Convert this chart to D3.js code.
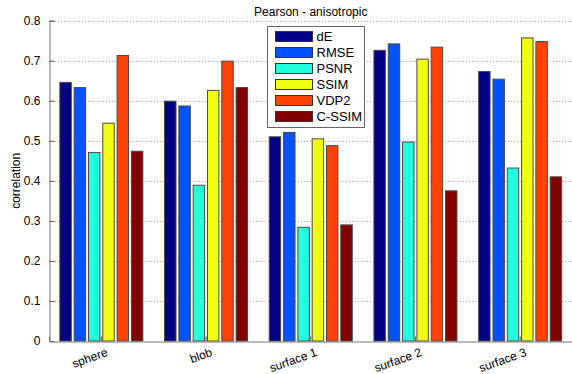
<!DOCTYPE html>
<html>
<head>
<meta charset="utf-8">
<script src="https://cdn.jsdelivr.net/npm/d3@7/dist/d3.min.js"></script>
<style>
  html, body { margin: 0; padding: 0; background: #fff; }
  svg { display: block; font-family: "Liberation Sans", Arial, sans-serif; }
</style>
</head>
<body>
<svg id="chart" width="572" height="374"></svg>
<script>
// Scene categories and the metrics compared for each
const categories = ["sphere", "blob", "surface 1", "surface 2", "surface 3"];
const metrics = ["dE", "RMSE", "PSNR", "SSIM", "VDP2", "C-SSIM"];
const metricColors = ["#000085", "#0052ff", "#22ffdd", "#f0ff10", "#ff4200", "#800000"];

// Pearson correlation per metric, one value per category
const dE    = [0.646, 0.599, 0.510, 0.726, 0.673];
const RMSE  = [0.633, 0.587, 0.521, 0.742, 0.654];
const PSNR  = [0.471, 0.389, 0.284, 0.497, 0.432];
const SSIM  = [0.544, 0.626, 0.505, 0.704, 0.757];
const VDP2  = [0.713, 0.699, 0.488, 0.734, 0.748];
const CSSIM = [0.474, 0.633, 0.290, 0.375, 0.410];
const seriesValues = [dE, RMSE, PSNR, SSIM, VDP2, CSSIM];

const yTicks = [0, 0.1, 0.2, 0.3, 0.4, 0.5, 0.6, 0.7, 0.8];

const svg = d3.select("#chart");
const margin = { left: 49, right: 0, top: 20.7, bottom: 33 };
const W = 572.5, H = 374;

const x = d3.scaleBand()
  .domain(categories)
  .range([margin.left, W])
  .paddingInner(0)
  .paddingOuter(0);

const inner = d3.scaleBand()
  .domain(metrics)
  .range([0, x.bandwidth() * 0.82])
  .paddingInner(0.2)
  .paddingOuter(0.1);

const y = d3.scaleLinear().domain([0, 0.8]).range([341, margin.top]);

// Dotted grid
svg.append("g")
  .selectAll("line")
  .data(yTicks.slice(1))
  .join("line")
  .attr("x1", margin.left).attr("x2", W)
  .attr("y1", d => Math.round(y(d)) + 0.5).attr("y2", d => Math.round(y(d)) + 0.5)
  .attr("stroke", "#a8a8a8")
  .attr("stroke-width", 1)
  .attr("stroke-dasharray", "1,2");

// Bars
const groups = svg.append("g")
  .selectAll("g")
  .data(categories)
  .join("g")
  .attr("transform", d => `translate(${x(d) + x.bandwidth() * 0.09},0)`);

groups.selectAll("rect")
  .data((c, ci) => metrics.map((m, mi) => ({ m, mi, v: seriesValues[mi][ci] })))
  .join("rect")
  .attr("x", d => inner(d.m))
  .attr("width", inner.bandwidth())
  .attr("y", d => y(d.v))
  .attr("height", d => y(0) - y(d.v))
  .attr("fill", d => metricColors[d.mi])
  .attr("stroke", "#4a4a4a")
  .attr("stroke-width", 1);

// Y axis (ticks point inward)
const yAxis = d3.axisLeft(y)
  .tickValues(yTicks)
  .tickSize(-5)
  .tickPadding(9)
  .tickFormat(d => d === 0 ? "0" : d3.format(".1f")(d));

const gy = svg.append("g")
  .attr("transform", `translate(${margin.left + 0.5},0)`)
  .call(yAxis);
gy.select(".domain").attr("stroke", "#777");
gy.selectAll(".tick line").attr("stroke", "#555");
gy.selectAll("text").attr("font-size", 12).attr("fill", "#000");

// X axis
const xAxis = d3.axisBottom(x).tickSize(-5).tickFormat("");
const gx = svg.append("g")
  .attr("transform", `translate(0,${y(0) + 0.5})`)
  .call(xAxis);
gx.select(".domain").attr("stroke", "#777");
gx.selectAll(".tick line").attr("stroke", "#555");

// Rotated category labels
svg.append("g")
  .selectAll("text")
  .data(categories)
  .join("text")
  .attr("transform", d => `translate(${x(d) + x.bandwidth() / 2 + 4},${y(0) + 6}) rotate(-20)`)
  .attr("text-anchor", "end")
  .attr("dy", "0.75em")
  .attr("font-size", 12)
  .text(d => d);

// Y label
svg.append("text")
  .attr("transform", `translate(20,${(y(0) + y(0.8)) / 2}) rotate(-90)`)
  .attr("text-anchor", "middle")
  .attr("font-size", 12)
  .text("correlation");

// Title
svg.append("text")
  .attr("x", (margin.left + W) / 2)
  .attr("y", 16)
  .attr("text-anchor", "middle")
  .attr("font-size", 12)
  .text("Pearson - anisotropic");

// Legend
const lg = svg.append("g").attr("transform", "translate(267.5,26.5)");
lg.append("rect")
  .attr("width", 97).attr("height", 101)
  .attr("fill", "#fff")
  .attr("stroke", "#666");
const rows = lg.selectAll("g")
  .data(metrics)
  .join("g")
  .attr("transform", (d, i) => `translate(0,${5 + i * 16})`);
rows.append("rect")
  .attr("x", 8).attr("width", 37).attr("height", 10)
  .attr("fill", (d, i) => metricColors[i])
  .attr("stroke", "#333");
rows.append("text")
  .attr("x", 49).attr("y", 5)
  .attr("dy", "0.36em")
  .attr("font-size", 13)
  .text(d => d);
</script>
</body>
</html>
